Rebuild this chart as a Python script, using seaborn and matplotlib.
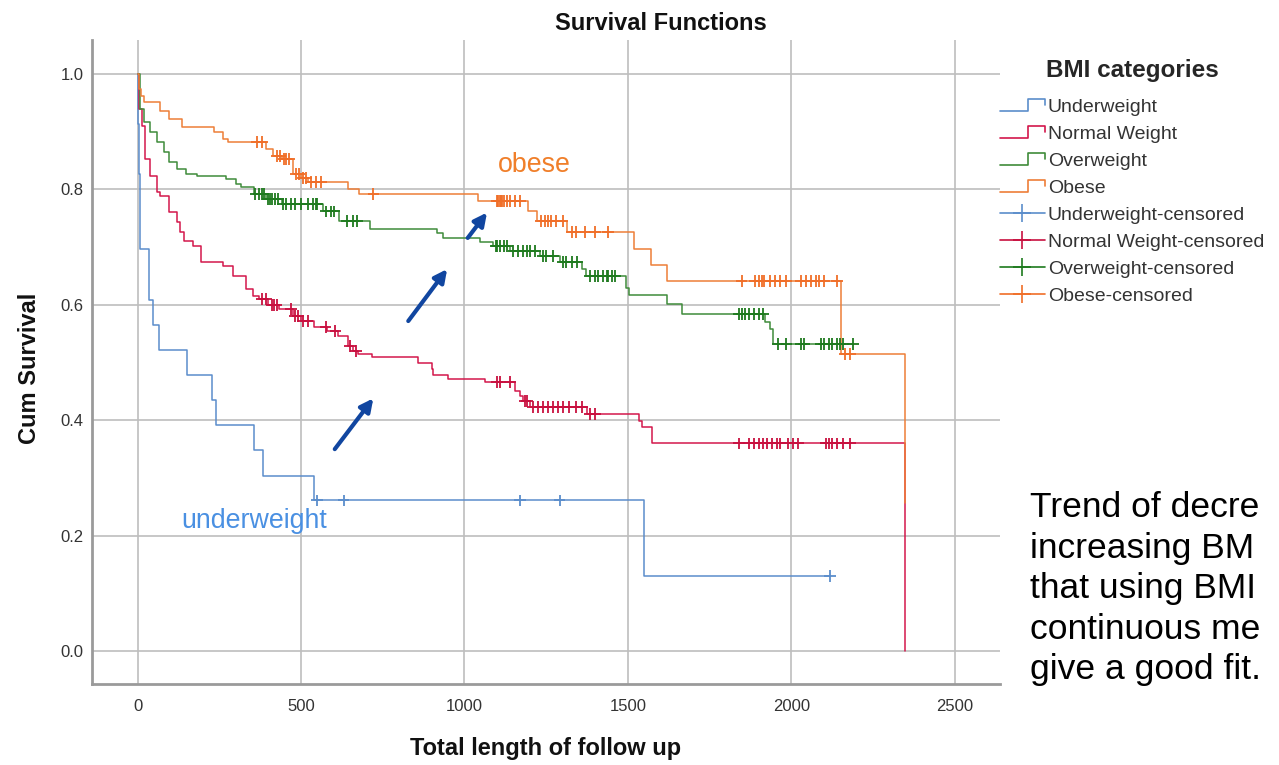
import numpy as np
import pandas as pd
import matplotlib
matplotlib.use("Agg")
import matplotlib.pyplot as plt
from matplotlib.lines import Line2D
from matplotlib.legend_handler import HandlerBase
import seaborn as sns

# BMI groups and their colours
groups = ["Underweight", "Normal Weight", "Overweight", "Obese"]
line_colors = ["#5B8DCB", "#D3174B", "#3F8B3A", "#EE7E38"]
mark_colors = ["#5B8DCB", "#C8103F", "#1E7A1E", "#F06E28"]

# Kaplan-Meier steps: event times and cumulative survival after each event
under_t = [0, 2, 4, 8, 33, 48, 64, 152, 228, 238, 356, 384, 539, 1549]
under_s = [1.0, 0.913, 0.826, 0.696, 0.609, 0.565, 0.522, 0.478, 0.435,
           0.391, 0.348, 0.304, 0.261, 0.130]
under_cens = [548, 630, 1169, 1291, 2119]

normal_t = [0, 3, 12, 21, 37, 58, 67, 97, 119, 128, 143, 170, 195, 262, 292,
            332, 353, 371, 400, 432, 475, 500, 540, 580, 612, 642, 660, 673,
            718, 858, 901, 904, 950, 1062, 1154, 1169, 1180, 1200, 1376, 1534,
            1543, 1574, 2347]
normal_s = [1.0, 0.94, 0.91, 0.853, 0.823, 0.795, 0.789, 0.761, 0.743, 0.726,
            0.711, 0.702, 0.674, 0.667, 0.650, 0.627, 0.615, 0.610, 0.600,
            0.593, 0.581, 0.572, 0.562, 0.555, 0.546, 0.529, 0.520, 0.515,
            0.510, 0.500, 0.489, 0.478, 0.471, 0.466, 0.451, 0.442, 0.433,
            0.423, 0.411, 0.399, 0.388, 0.360, 0.0]
normal_cens = [380, 392, 410, 418, 425, 470, 480, 490, 505, 520, 575, 605, 650,
               668, 1100, 1110, 1140, 1185, 1192, 1210, 1225, 1240, 1255, 1270,
               1285, 1300, 1320, 1340, 1360, 1385, 1400, 1840, 1870, 1885, 1900,
               1915, 1925, 1940, 1955, 1965, 1990, 2005, 2020, 2105, 2115, 2125,
               2140, 2160, 2180]

over_t = [0, 6, 18, 37, 58, 79, 97, 119, 149, 180, 271, 301, 317, 356, 393,
          440, 566, 615, 712, 916, 935, 1047, 1087, 1138, 1230, 1291, 1361,
          1373, 1495, 1504, 1619, 1665, 1921, 1936, 1945]
over_s = [1.0, 0.939, 0.917, 0.899, 0.882, 0.865, 0.847, 0.835, 0.827, 0.823,
          0.818, 0.809, 0.804, 0.792, 0.783, 0.775, 0.762, 0.745, 0.731, 0.724,
          0.716, 0.709, 0.702, 0.693, 0.685, 0.674, 0.662, 0.650, 0.630, 0.617,
          0.601, 0.584, 0.570, 0.558, 0.532]
over_cens = [360, 370, 380, 385, 398, 405, 410, 420, 430, 445, 455, 470, 480,
             500, 520, 535, 545, 550, 575, 590, 600, 640, 660, 672, 1095, 1100,
             1110, 1120, 1130, 1150, 1165, 1180, 1190, 1200, 1215, 1240, 1250,
             1270, 1300, 1310, 1330, 1345, 1385, 1400, 1410, 1425, 1435, 1440,
             1450, 1460, 1840, 1850, 1860, 1870, 1885, 1900, 1915, 1960, 1985,
             2030, 2040, 2090, 2100, 2115, 2125, 2140, 2150, 2160, 2190]

obese_t = [0, 4, 9, 18, 67, 97, 134, 234, 262, 277, 393, 414, 440, 475, 500,
           520, 645, 676, 1041, 1193, 1221, 1315, 1519, 1571, 1619, 2152, 2347]
obese_s = [1.0, 0.974, 0.962, 0.951, 0.936, 0.922, 0.908, 0.899, 0.887, 0.882,
           0.870, 0.858, 0.853, 0.827, 0.820, 0.813, 0.801, 0.792, 0.780, 0.763,
           0.745, 0.726, 0.697, 0.669, 0.641, 0.515, 0.257]
obese_cens = [365, 380, 425, 435, 448, 455, 462, 485, 495, 505, 515, 530, 545,
              560, 721, 1100, 1104, 1108, 1112, 1116, 1120, 1130, 1140, 1155,
              1170, 1235, 1245, 1255, 1265, 1280, 1300, 1330, 1340, 1370, 1400,
              1440, 1848, 1888, 1900, 1910, 1918, 1935, 1950, 1965, 1985, 2030,
              2045, 2060, 2075, 2085, 2100, 2140, 2165, 2180]

x_ticks = [0, 500, 1000, 1500, 2000, 2500]
y_ticks = [0.0, 0.2, 0.4, 0.6, 0.8, 1.0]

# Side note lines (the slide cuts them at its right edge)
note_lines = ["Trend of decre", "increasing BM", "that using BMI",
              "continuous me", "give a good fit."]

series = {
    "Underweight": (under_t, under_s, under_cens),
    "Normal Weight": (normal_t, normal_s, normal_cens),
    "Overweight": (over_t, over_s, over_cens),
    "Obese": (obese_t, obese_s, obese_cens),
}

# Long-format tables for the step curves and the censoring marks
step_rows, cens_rows = [], []
for g, (t, s, c) in series.items():
    t = list(t); s = list(s)
    end = max(max(c), t[-1])
    if end > t[-1]:
        t.append(end); s.append(s[-1])
    for ti, si in zip(t, s):
        step_rows.append({"time": ti, "surv": si, "group": g})
    t_arr = np.asarray(series[g][0]); s_arr = np.asarray(series[g][1])
    for ci in c:
        idx = np.searchsorted(t_arr, ci, side="right") - 1
        cens_rows.append({"time": ci, "surv": s_arr[idx], "group": g})
steps = pd.DataFrame(step_rows)
cens = pd.DataFrame(cens_rows)

sns.set_style("white")
plt.rcParams["font.family"] = ["Liberation Sans", "DejaVu Sans"]

W, H = 1279, 765
fig = plt.figure(figsize=(W / 100, H / 100), dpi=100)
ax = fig.add_axes([92 / W, 1 - 684 / H, (1000 - 92) / W, (684 - 40) / H])

sns.lineplot(data=steps, x="time", y="surv", hue="group", hue_order=groups,
             palette=dict(zip(groups, line_colors)), estimator=None, sort=False,
             drawstyle="steps-post", linewidth=1.1, legend=False, ax=ax)
sns.scatterplot(data=cens, x="time", y="surv", hue="group", hue_order=groups,
                palette=dict(zip(groups, mark_colors)), marker="+", s=70,
                linewidth=1.3, legend=False, ax=ax, zorder=3)

ax.set_xlim(-140, 2639)
ax.set_ylim(-0.057, 1.059)
ax.set_xticks(x_ticks)
ax.set_yticks(y_ticks)
ax.set_xticklabels([str(v) for v in x_ticks])
ax.set_yticklabels([f"{v:.1f}" for v in y_ticks])
ax.tick_params(axis="both", length=0, labelsize=12, colors="#333333")
ax.tick_params(axis="x", pad=11)
ax.tick_params(axis="y", pad=6)
ax.grid(True, color="#BEBEBE", linewidth=1.2)
ax.set_axisbelow(True)
for side in ("top", "right"):
    ax.spines[side].set_visible(False)
for side in ("left", "bottom"):
    ax.spines[side].set_color("#9A9A9A")
    ax.spines[side].set_linewidth(2)

ax.set_xlabel("Total length of follow up", fontsize=17, fontweight="bold",
              color="#111111")
ax.set_ylabel("Cum Survival", fontsize=17, fontweight="bold", color="#111111")
ax.xaxis.set_label_coords(0.5, -0.082)
ax.yaxis.set_label_coords(-0.056, 0.49)

fig.text(661 / W, 1 - 23 / H, "Survival Functions", ha="center", va="center",
         fontsize=17, fontweight="bold", color="#111111")

# Group annotations and trend arrows
ax.text(1215, 0.842, "obese", color="#F07F2A", fontsize=19.3, ha="center",
        va="center")
ax.text(357, 0.225, "underweight", color="#4A90E2", fontsize=19.3,
        ha="center", va="center")
arrow_kw = dict(arrowstyle="-|>", color="#1146A0", lw=3, mutation_scale=19,
                shrinkA=0, shrinkB=0)
ax.annotate("", xy=(721, 0.438), xytext=(603, 0.350), arrowprops=arrow_kw)
ax.annotate("", xy=(947, 0.662), xytext=(828, 0.572), arrowprops=arrow_kw)
ax.annotate("", xy=(1069, 0.760), xytext=(1010, 0.716), arrowprops=arrow_kw)


class StepHandle(HandlerBase):
    def create_artists(self, legend, orig_handle, xdescent, ydescent, width,
                       height, fontsize, trans):
        x0, y0 = -xdescent, -ydescent
        xs = [x0, x0 + 0.62 * width, x0 + 0.62 * width, x0 + width, x0 + width]
        ys = [y0 + 0.1 * height, y0 + 0.1 * height, y0 + 0.95 * height,
              y0 + 0.95 * height, y0 + 0.55 * height]
        line = Line2D(xs, ys, color=orig_handle.get_color(),
                      lw=orig_handle.get_linewidth(), transform=trans)
        return [line]


handles, labels, hmap = [], [], {}
for g, c in zip(groups, line_colors):
    h = Line2D([], [], color=c, lw=1.2)
    handles.append(h); labels.append(g); hmap[h] = StepHandle()
for g, c in zip(groups, mark_colors):
    handles.append(Line2D([], [], color=c, lw=1.2, marker="+", markersize=13,
                          markeredgewidth=1.2))
    labels.append(f"{g}-censored")
leg = fig.legend(handles, labels, handler_map=hmap, loc="upper left",
                 bbox_to_anchor=(1000 / W, 1 - 59 / H), frameon=False,
                 title="BMI categories", fontsize=14, handlelength=2.3,
                 handletextpad=0.15, labelspacing=0.48, borderpad=0,
                 borderaxespad=0, title_fontproperties={"weight": "bold",
                                                        "size": 17.5})
for t in leg.get_texts():
    t.set_color("#333333")
leg._legend_box.sep = 12

fig.text(1030 / W, 1 - 491 / H, "\n".join(note_lines), ha="left", va="top",
         fontsize=25.5, linespacing=1.29, color="black")

fig.savefig("out.png", dpi=100)
